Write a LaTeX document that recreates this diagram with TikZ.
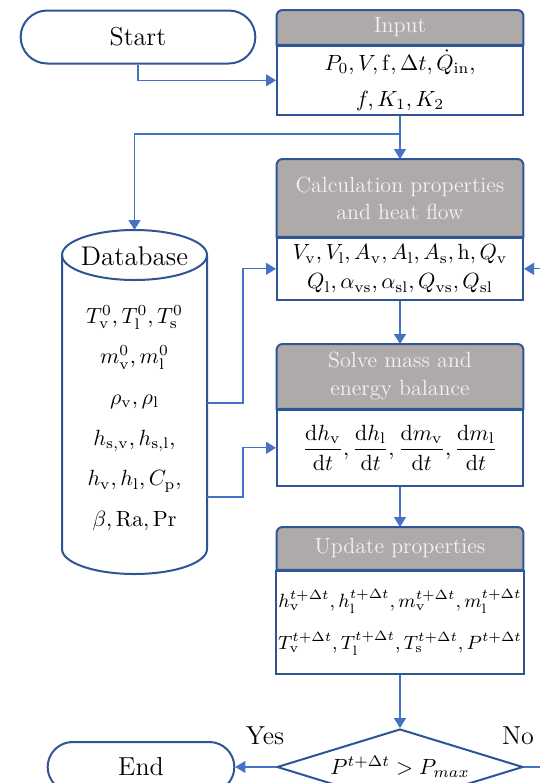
\documentclass[tikz,border=0pt]{standalone}
\usepackage{fix-cm}
\usetikzlibrary{positioning,shapes.geometric,shapes.misc,arrows.meta,backgrounds}
\definecolor{boxblue}{HTML}{2F5597}
\definecolor{lineblue}{HTML}{4472C4}
\definecolor{hgray}{HTML}{AEAAAA}
\definecolor{htext}{HTML}{F2F2F2}

\begin{document}
\begin{tikzpicture}[x=0.5pt, y=-0.5pt, >={Triangle[length=5pt,width=6pt]},
        term/.style={rounded rectangle, draw=boxblue, line width=1pt, font=\fontsize{13}{15}\selectfont},
        head/.style={anchor=north, minimum width=123pt, inner sep=1pt, align=center, text=htext, font=\fontsize{11}{13.5}\selectfont},
        body/.style={draw=boxblue, line width=1pt, fill=white, minimum width=123pt, inner sep=1pt, align=center, font=\fontsize{11}{14.5}\selectfont},
        flow/.style={->, draw=lineblue, line width=0.65pt}
    ]
    \useasboundingbox (0,0) rectangle (540,783);
    \clip (0,0) rectangle (540,783);

    % Start
    \node[term, minimum width=124pt, minimum height=26.5pt] (start) at (138,37) {Start};

    % Input
    \node[head, minimum height=17pt] (inH) at (400,10) {Input};
    \node[body, below=0pt of inH, minimum height=34.5pt, font=\fontsize{11}{18}\selectfont] (inB)
        {$P_0, V, \mathrm{f}, \Delta t, \dot{Q}_{\mathrm{in}},$\\ $f, K_1, K_2$};

    % Calculation properties
    \node[head, minimum height=38.5pt] (calcH) at (400,159) {Calculation properties\\and heat flow};
    \node[body, below=0pt of calcH, minimum height=31pt] (calcB)
        {$V_\mathrm{v}, V_\mathrm{l}, A_\mathrm{v}, A_\mathrm{l}, A_\mathrm{s}, \mathrm{h}, Q_\mathrm{v}$\\
         $Q_\mathrm{l}, \alpha_\mathrm{vs}, \alpha_\mathrm{sl}, Q_\mathrm{vs}, Q_\mathrm{sl}$};

    % Solve balance
    \node[head, minimum height=32pt, font=\fontsize{11}{14}\selectfont] (solveH) at (400,344) {Solve mass and\\energy balance};
    \node[body, below=0pt of solveH, minimum height=38pt] (solveB)
        {$\displaystyle\frac{\mathrm{d}h_\mathrm{v}}{\mathrm{d}t}, \frac{\mathrm{d}h_\mathrm{l}}{\mathrm{d}t},
          \frac{\mathrm{d}m_\mathrm{v}}{\mathrm{d}t}, \frac{\mathrm{d}m_\mathrm{l}}{\mathrm{d}t}$};

    % Update
    \node[head, minimum height=21pt] (updH) at (400,527) {Update properties};
    \node[body, below=0pt of updH, minimum height=51.5pt, font=\fontsize{9.6}{21}\selectfont] (updB)
        {$h_\mathrm{v}^{t+\Delta t}, h_\mathrm{l}^{t+\Delta t}, m_\mathrm{v}^{t+\Delta t}, m_\mathrm{l}^{t+\Delta t}$\\
         $T_\mathrm{v}^{t+\Delta t}, T_\mathrm{l}^{t+\Delta t}, T_\mathrm{s}^{t+\Delta t}, P^{t+\Delta t}$};

    % header strips
    \begin{pgfonlayer}{background}
        \foreach \h in {inH, calcH, solveH, updH}
            \filldraw[fill=hgray, draw=boxblue, line width=1pt] (\h.south west) [rounded corners=3pt] -- (\h.north west)
                -- (\h.north east) [sharp corners] -- (\h.south east) -- cycle;
    \end{pgfonlayer}

    % Decision
    \node[diamond, draw=boxblue, line width=1pt, aspect=3.2, minimum width=123pt, minimum height=38pt, inner sep=0pt,
        font=\fontsize{11}{13}\selectfont] (dec) at (400,767) {$P^{t+\Delta t} > P_{max}$};
    \node[font=\fontsize{13}{15}\selectfont] (yes) at (265,736) {Yes};
    \node[font=\fontsize{13}{15}\selectfont] (no) at (518,736) {No};

    % End
    \node[term, minimum width=100pt, minimum height=25pt] (end) at (141,767) {End};

    % Database
    \node[minimum width=72.5pt, minimum height=172pt, outer sep=0pt] (db) at (134.5,402) {};
    \draw[draw=boxblue, line width=1pt] ([yshift=-12.5pt]db.north west) -- ([yshift=12.5pt]db.south west)
        arc[start angle=180, end angle=360, x radius=36.25pt, y radius=12.5pt] -- ([yshift=-12.5pt]db.north east);
    \draw[draw=boxblue, line width=1pt] ([yshift=-12.5pt]db.north) ellipse [x radius=36.25pt, y radius=12.5pt];
    \node[font=\fontsize{13.5}{15}\selectfont] (dbT) at (134.5,256) {Database};
    \node[align=center, font=\fontsize{11}{20.3}\selectfont] (dbL) at (134.5,418)
        {$T_\mathrm{v}^0, T_\mathrm{l}^0, T_\mathrm{s}^0$\\ $m_\mathrm{v}^0, m_\mathrm{l}^0$\\ $\rho_\mathrm{v}, \rho_\mathrm{l}$\\
         $h_\mathrm{s,v}, h_\mathrm{s,l},$\\ $h_\mathrm{v}, h_\mathrm{l}, C_\mathrm{p},$\\ $\beta, \mathrm{Ra}, \mathrm{Pr}$};

    % connectors
    \coordinate (split) at (400,134);
    \coordinate (db1) at (db.east |- 0,403);
    \coordinate (db2) at (db.east |- 0,497);
    \draw[flow] (start.south) |- (inB.west);
    \draw[flow] (inB.south) -- (calcH.north);
    \draw[flow] (split) -| (db.north);
    \draw[flow] (db1) -- ++(36,0) |- (calcB.west);
    \draw[flow] (db2) -- ++(36,0) |- (solveB.west);
    \draw[flow] (calcB.south) -- (solveH.north);
    \draw[flow] (solveB.south) -- (updH.north);
    \draw[flow] (updB.south) -- (dec.north);
    \draw[flow] (dec.west) -- (end.east);
    \draw[flow] (dec.east) -- ++(40,0) |- (calcB.east);
\end{tikzpicture}
\end{document}
